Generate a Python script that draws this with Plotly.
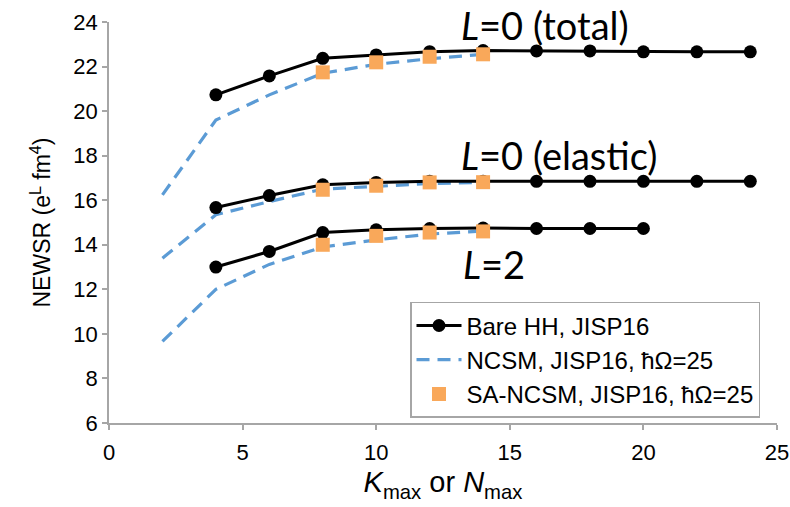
import plotly.graph_objects as go

# Bare HH (JISP16)
k_total = [4, 6, 8, 10, 12, 14, 16, 18, 20, 22, 24]
total_bare = [20.73, 21.58, 22.37, 22.52, 22.67, 22.72, 22.70, 22.70, 22.66, 22.66, 22.66]
k_elastic = [4, 6, 8, 10, 12, 14, 16, 18, 20, 22, 24]
elastic_bare = [15.67, 16.21, 16.69, 16.80, 16.85, 16.85, 16.85, 16.85, 16.85, 16.85, 16.85]
k_l2 = [4, 6, 8, 10, 12, 14, 16, 18, 20]
l2_bare = [13.00, 13.70, 14.55, 14.67, 14.73, 14.75, 14.73, 14.73, 14.73]

# NCSM, JISP16, hw=25
n_ncsm = [2, 4, 6, 8, 10, 12, 14]
total_ncsm = [16.24, 19.60, 20.73, 21.70, 22.10, 22.35, 22.55]
elastic_ncsm = [13.40, 15.35, 15.94, 16.50, 16.62, 16.75, 16.80]
l2_ncsm = [9.66, 12.00, 13.12, 13.90, 14.22, 14.48, 14.62]

# SA-NCSM, JISP16, hw=25
n_sa = [8, 10, 12, 14]
total_sa = [21.74, 22.19, 22.44, 22.55]
elastic_sa = [16.47, 16.65, 16.80, 16.81]
l2_sa = [14.00, 14.40, 14.55, 14.60]

BLACK = "#000000"
BLUE = "#5B9BD5"
ORANGE = "#F9A85A"
SANS = "Liberation Sans, Arial, sans-serif"

fig = go.Figure()

ncsm_sets = [(total_ncsm, True), (elastic_ncsm, False), (l2_ncsm, False)]
for ys, show in ncsm_sets:
    fig.add_trace(go.Scatter(x=n_ncsm, y=ys, mode="lines",
                             line=dict(color=BLUE, width=3.2, dash="13px,8px"),
                             name="NCSM, JISP16, ħΩ=25", showlegend=show,
                             legendrank=2))

bare_sets = [(k_total, total_bare, True), (k_elastic, elastic_bare, False), (k_l2, l2_bare, False)]
for xs, ys, show in bare_sets:
    fig.add_trace(go.Scatter(x=xs, y=ys, mode="lines+markers",
                             line=dict(color=BLACK, width=3),
                             marker=dict(color=BLACK, size=13, symbol="circle"),
                             name="Bare HH, JISP16", showlegend=show,
                             legendrank=1))

sa_sets = [(total_sa, True), (elastic_sa, False), (l2_sa, False)]
for ys, show in sa_sets:
    fig.add_trace(go.Scatter(x=n_sa, y=ys, mode="markers",
                             marker=dict(color=ORANGE, size=14, symbol="square"),
                             name="SA-NCSM, JISP16, ħΩ=25", showlegend=show,
                             legendrank=3))

label_font = dict(family="Lato, Open Sans, sans-serif", size=38, color="black")
fig.add_annotation(x=16.3, y=23.85, text="<i>L</i>=0 (total)", showarrow=False, font=label_font)
fig.add_annotation(x=16.85, y=18.05, text="<i>L</i>=0 (elastic)", showarrow=False, font=label_font)
fig.add_annotation(x=14.4, y=13.15, text="<i>L</i>=2", showarrow=False, font=label_font)

axis_font = dict(family=SANS, size=22, color="black")
fig.update_xaxes(range=[0, 25], tickvals=[0, 5, 10, 15, 20, 25],
                 showgrid=False, zeroline=False, showline=True, automargin=False,
                 linecolor="#A6A6A6", linewidth=1.5,
                 ticks="outside", ticklen=5, tickcolor="#A6A6A6", tickwidth=1.5,
                 tickfont=axis_font, ticklabelstandoff=4,
                 title=dict(text="<i>K</i><sub>max</sub> or <i>N</i><sub>max</sub>",
                            font=dict(family=SANS, size=29, color="black"),
                            standoff=8))
fig.update_yaxes(range=[6, 24], tickvals=[6, 8, 10, 12, 14, 16, 18, 20, 22, 24],
                 showgrid=False, zeroline=False, showline=True, automargin=False,
                 linecolor="#A6A6A6", linewidth=1.5,
                 ticks="outside", ticklen=5, tickcolor="#A6A6A6", tickwidth=1.5,
                 tickfont=axis_font,
                 title=dict(text="NEWSR (e<sup>L</sup> fm<sup>4</sup>)",
                            font=dict(family=SANS, size=23, color="black"),
                            standoff=16))

fig.update_layout(
    width=790, height=507,
    margin=dict(l=109, r=13, t=22, b=84),
    plot_bgcolor="white", paper_bgcolor="white",
    legend=dict(x=0.4506, y=0.302, xanchor="left", yanchor="top",
                bordercolor="#A6A6A6", borderwidth=1.5, bgcolor="white",
                font=dict(family=SANS, size=24, color="black"),
                tracegroupgap=0, itemwidth=45),
)

fig.write_html("out.html")
